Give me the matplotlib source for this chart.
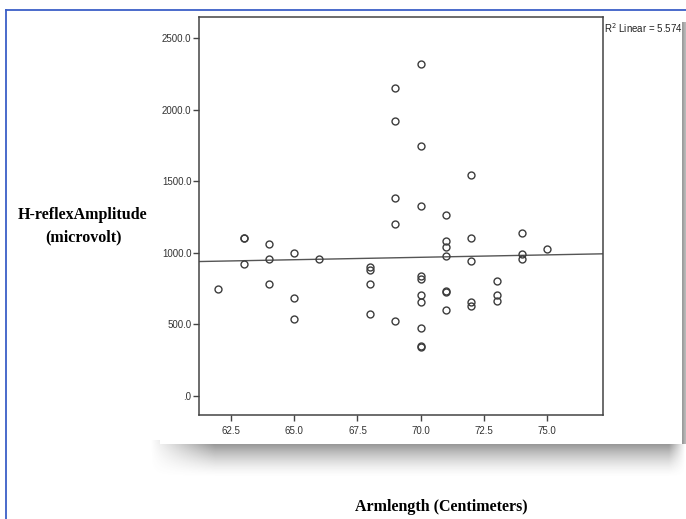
import numpy as np
import matplotlib
matplotlib.use("Agg")
import matplotlib.pyplot as plt
from matplotlib.patches import Rectangle

# arm length (cm) and H-reflex amplitude (microvolt)
arm_62 = [750]
arm_63 = [1105, 1100, 925]
arm_64 = [1060, 960, 780]
arm_65 = [1000, 685, 540]
arm_66 = [960]
arm_68 = [900, 880, 785, 570]
arm_69 = [2150, 1920, 1380, 1200, 525]
arm_70 = [2320, 1745, 1330, 840, 820, 705, 655, 475, 348, 342]
arm_71 = [1265, 1080, 1040, 980, 735, 728, 603]
arm_72 = [1545, 1100, 945, 655, 625]
arm_73 = [805, 705, 665]
arm_74 = [1135, 990, 955]
arm_75 = [1025]

groups = {62: arm_62, 63: arm_63, 64: arm_64, 65: arm_65, 66: arm_66, 68: arm_68,
          69: arm_69, 70: arm_70, 71: arm_71, 72: arm_72, 73: arm_73, 74: arm_74,
          75: arm_75}

x_ticks = [62.5, 65.0, 67.5, 70.0, 72.5, 75.0]
y_ticks = [0, 500, 1000, 1500, 2000, 2500]
y_ticklabels = [".0", "500.0", "1000.0", "1500.0", "2000.0", "2500.0"]
r2_text = "R$^2$ Linear = 5.574"

x = np.concatenate([[k] * len(v) for k, v in groups.items()]).astype(float)
y = np.concatenate([v for v in groups.values()]).astype(float)

W, H = 686, 519
fig = plt.figure(figsize=(W / 100, H / 100), dpi=100)
fig.patch.set_facecolor("white")

# background layer in pixel coords: shadow, white panel, blue frame
bg = fig.add_axes([0, 0, 1, 1], zorder=0)
bg.set_xlim(0, W)
bg.set_ylim(H, 0)
bg.axis("off")

# soft shadow under the panel
ny, nx = 60, 300
yy = np.linspace(0, 1, ny)[:, None]
xx = np.linspace(0, 1, nx)[None, :]
alpha = (1 - yy) ** 1.6 * np.clip(xx / 0.12, 0, 1) * np.clip((1 - xx) / 0.03, 0, 1)
shadow = np.zeros((ny, nx, 4))
shadow[..., :3] = 0.35
shadow[..., 3] = 0.75 * alpha
bg.imshow(shadow, extent=(150, 686, 478, 440), aspect="auto", interpolation="bilinear")

# right edge shadow strip
side = np.zeros((10, 2, 4))
side[..., :3] = 0.45
side[..., 3] = np.array([0.7, 0.5])[None, :]
bg.imshow(side, extent=(682, 686, 444, 22), aspect="auto", interpolation="bilinear")

bg.add_patch(Rectangle((160, 11), 522, 433, facecolor="white", edgecolor="none"))
bg.plot([5.5, 686], [9.5, 9.5], color="#3b5fc7", lw=1.3)
bg.plot([5.5, 5.5], [9.5, 519], color="#3b5fc7", lw=1.3)

# the scatter plot
ax = fig.add_axes([199 / W, 1 - 415 / H, (603 - 199) / W, (415 - 17) / H], zorder=1)
ax.set_facecolor("white")
ax.plot(x, y, "o", ms=5, mfc="none", mec="#3c3c3c", mew=1.0, zorder=3)

slope, intercept = np.polyfit(x, y, 1)
xl = np.array([61.24, 77.2])
ax.plot(xl, intercept + slope * xl, color="#555555", lw=1.0, zorder=2)

ax.set_xlim(61.24, 77.2)
ax.set_ylim(-133, 2647)
ax.set_xticks(x_ticks)
ax.set_xticklabels([f"{t:.1f}" for t in x_ticks])
ax.set_yticks(y_ticks)
ax.set_yticklabels(y_ticklabels)
for s in ax.spines.values():
    s.set_color("#444444")
    s.set_linewidth(1.1)
ax.tick_params(direction="out", length=4, width=1, color="#444444",
               labelsize=7, labelcolor="#333333", pad=1.5)
for lab in ax.get_xticklabels() + ax.get_yticklabels():
    lab.set_fontfamily("Liberation Sans")
ax.tick_params(axis="x", pad=4)

fig.text(604 / W, 1 - 28 / H, r2_text, fontsize=7, family="Liberation Sans",
         color="#222222", ha="left", va="center")

fig.text(83 / W, 1 - 215 / H, "H-reflexAmplitude", fontsize=11.5, family="Liberation Serif",
         weight="bold", ha="center", va="center")
fig.text(83 / W, 1 - 237 / H, "(microvolt)", fontsize=11.5, family="Liberation Serif",
         weight="bold", ha="center", va="center")
fig.text(441 / W, 1 - 507 / H, "Armlength (Centimeters)", fontsize=11.5,
         family="Liberation Serif", weight="bold", ha="center", va="center")

fig.savefig("out.png", dpi=100)
